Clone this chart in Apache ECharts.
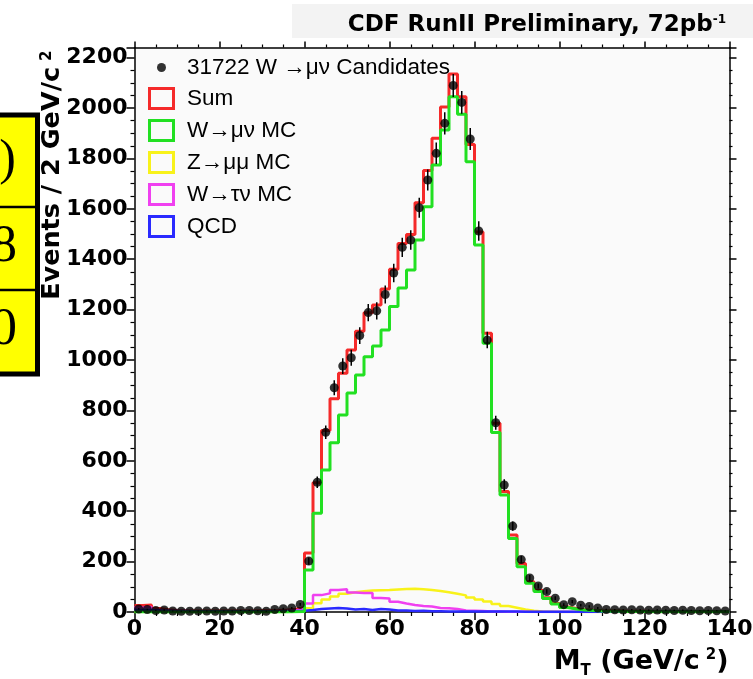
<!DOCTYPE html>
<html><head><meta charset="utf-8">
<script src="https://cdn.jsdelivr.net/npm/echarts@6/dist/echarts.min.js"></script>
<style>html,body{margin:0;padding:0;background:#fff;}#c{width:753px;height:679px;}</style>
</head><body><div id="c"></div>
<script>
// ---- data (2 GeV/c^2 bins from 0 to 140) ----
const BIN_WIDTH = 2;
const X_MIN = 0, X_MAX = 140;
const binLow = Array.from({length: 70}, (_, i) => X_MIN + i * BIN_WIDTH);

const dataCounts = [12, 10, 6, 8, 4, 3, 3, 4, 4, 3,
  4, 4, 6, 6, 5, 3, 10, 13, 16, 30,
  202, 515, 713, 890, 976, 1009, 1097, 1188, 1195, 1260,
  1345, 1447, 1476, 1604, 1714, 1820, 1939, 2089, 2022, 1877,
  1512, 1079, 751, 504, 341, 208, 135, 103, 81, 55,
  29, 41, 27, 22, 16, 10, 9, 8, 9, 8,
  7, 8, 7, 6, 7, 6, 5, 6, 5, 4];

const sumMC = [26, 28, 14, 9, 6, 5, 4, 4, 4, 4,
  4, 4, 4, 4, 5, 5, 6, 8, 11, 18,
  234, 513, 720, 846, 947, 1040, 1114, 1187, 1218, 1282,
  1360, 1462, 1498, 1624, 1752, 1880, 2004, 2135, 2045, 1855,
  1508, 1106, 749, 478, 306, 192, 120, 86, 57, 34,
  20, 14, 9, 7, 5, 4, 4, 3, 3, 3,
  2, 2, 2, 2, 2, 2, 2, 2, 2, 2];

const wmunuMC = [0, 0, 0, 0, 0, 0, 0, 0, 0, 0,
  0, 0, 0, 0, 0, 0, 0, 0, 1, 2,
  167, 392, 563, 672, 782, 869, 940, 1013, 1056, 1119,
  1212, 1286, 1357, 1476, 1608, 1774, 1913, 2045, 1975, 1787,
  1456, 1066, 712, 464, 292, 180, 114, 81, 54, 32,
  18, 12, 8, 6, 4, 3, 3, 2, 2, 2,
  1, 1, 1, 1, 1, 1, 1, 1, 1, 1];

const zmumuMC = [0, 0, 0, 0, 0, 0, 0, 0, 0, 0,
  0, 0, 0, 0, 0, 0, 0, 0, 1, 3,
  15, 35, 50, 62, 72, 78, 82, 85, 86, 87,
  89, 91, 92, 90, 87, 83, 78, 72, 66, 58,
  50, 42, 32, 24, 17, 10, 5, 2, 1, 0,
  0, 0, 0, 0, 0, 0, 0, 0, 0, 0,
  0, 0, 0, 0, 0, 0, 0, 0, 0, 0];

const wtaunuMC = [18, 20, 8, 4, 2, 1, 1, 1, 1, 1,
  1, 1, 1, 1, 1, 1, 2, 3, 6, 12,
  34, 67, 74, 87, 90, 77, 75, 75, 56, 54,
  41, 34, 28, 24, 22, 16, 15, 12, 6, 5,
  4, 2, 2, 1, 1, 1, 0, 0, 0, 0,
  0, 0, 0, 0, 0, 0, 0, 0, 0, 0,
  0, 0, 0, 0, 0, 0, 0, 0, 0, 0];

const qcdBkg = [8, 8, 6, 5, 4, 4, 3, 3, 3, 3,
  3, 3, 3, 3, 3, 3, 3, 4, 4, 5,
  8, 12, 14, 16, 14, 10, 12, 8, 12, 10,
  6, 6, 4, 5, 3, 3, 2, 2, 2, 2,
  2, 2, 2, 2, 2, 1, 1, 1, 1, 1,
  1, 1, 1, 1, 1, 1, 1, 1, 1, 1,
  1, 1, 1, 1, 1, 1, 1, 1, 1, 1];

const seriesNames = ['Sum', 'W\u2192\u03BC\u03BD MC', 'Z\u2192\u03BC\u03BC MC', 'W\u2192\u03C4\u03BD MC', 'QCD'];
const dataName = '31722 W \u2192\u03BC\u03BD Candidates';
const yTickLabels = [0, 200, 400, 600, 800, 1000, 1200, 1400, 1600, 1800, 2000, 2200];

// ---- build ----
function stepData(vals) {
  const d = vals.map((v, i) => [binLow[i], v]);
  d.push([X_MAX, vals[vals.length - 1]]);
  return d;
}
const pts = dataCounts.map((v, i) => [binLow[i] + BIN_WIDTH / 2, v]);

const chart = echarts.init(document.getElementById('c'), null, {renderer: 'canvas'});
const boldFont = 'DejaVu Sans';
const hollowBox = 'path://M0,0H27V23H0Z M3,3V20H24V3Z';

const lineDefs = [
  {name: seriesNames[0], vals: sumMC, color: '#f52a2a', w: 3, z: 3},
  {name: seriesNames[1], vals: wmunuMC, color: '#22e022', w: 3, z: 4},
  {name: seriesNames[2], vals: zmumuMC, color: '#f8f21a', w: 2.5, z: 3},
  {name: seriesNames[3], vals: wtaunuMC, color: '#f040f0', w: 2.5, z: 3},
  {name: seriesNames[4], vals: qcdBkg, color: '#2a2aff', w: 2.5, z: 3}
];

const series = lineDefs.map(d => ({
  type: 'line', name: d.name, step: 'end', showSymbol: false, silent: true,
  data: stepData(d.vals), color: d.color,
  lineStyle: {color: d.color, width: d.w}, z: d.z
}));
series.push({
  type: 'custom', silent: true, z: 6,
  data: pts,
  renderItem: function (params, api) {
    const x = api.value(0), y = api.value(1), e = Math.sqrt(y);
    const p1 = api.coord([x, Math.max(0, y - e)]), p2 = api.coord([x, y + e]);
    return {type: 'line', shape: {x1: p1[0], y1: p1[1], x2: p2[0], y2: p2[1]},
      style: {stroke: '#000', lineWidth: 1.5}};
  }
});
series.push({
  type: 'scatter', name: dataName, data: pts, symbol: 'circle', symbolSize: 9,
  itemStyle: {color: '#000'}, z: 7, silent: true
});

const axisLineStyle = {color: '#000', width: 1.5};

chart.setOption({
  animation: false,
  backgroundColor: '#fff',
  title: {
    text: 'CDF RunII Preliminary, 72pb{sup|-1}',
    right: 22, top: 9,
    textStyle: {fontFamily: boldFont, fontWeight: 'bold', fontSize: 23, color: '#000',
      rich: {sup: {fontFamily: boldFont, fontWeight: 'bold', fontSize: 12, verticalAlign: 'top', color: '#000'}}}
  },
  grid: {left: 134.5, right: 23.5, top: 47.5, bottom: 67, show: true, backgroundColor: '#fafafa', borderWidth: 0,
    containLabel: false, outerBoundsMode: 'none'},
  legend: [
    {data: [{name: dataName, icon: 'circle'}], orient: 'vertical', left: 157, top: 56, padding: 0,
      itemWidth: 9, itemHeight: 9, selectedMode: false,
      textStyle: {fontFamily: 'Liberation Sans', fontSize: 22.5, color: '#000', padding: [0, 0, 0, 16]}},
    {data: seriesNames.map(n => ({name: n, icon: hollowBox})), orient: 'vertical', left: 148, top: 87, padding: 0,
      itemWidth: 27, itemHeight: 23, itemGap: 9, selectedMode: false,
      itemStyle: {borderWidth: 0},
      textStyle: {fontFamily: 'Liberation Sans', fontSize: 22.5, color: '#000', padding: [0, 0, 0, 7]}}
  ],
  xAxis: [
    {type: 'value', min: X_MIN, max: X_MAX, interval: 20, position: 'bottom',
      axisLine: {show: true, onZero: false, lineStyle: axisLineStyle},
      axisTick: {show: true, inside: false, length: 8, lineStyle: axisLineStyle},
      minorTick: {show: true, splitNumber: 4, length: 4, lineStyle: {color: '#000', width: 1.2}},
      splitLine: {show: false},
      axisLabel: {fontFamily: boldFont, fontWeight: 'bold', fontSize: 22, color: '#000', margin: 6},
      name: 'M{sub|T} (GeV/c{sup|2})', nameLocation: 'end', nameGap: -1, nameMoveOverlap: false,
      nameTextStyle: {fontFamily: boldFont, fontWeight: 'bold', fontSize: 27, color: '#000',
        align: 'right', verticalAlign: 'top', padding: [36, 0, 0, 0],
        rich: {sub: {fontFamily: boldFont, fontWeight: 'bold', fontSize: 15, verticalAlign: 'bottom', padding: [0, 0, -4, 0]},
               sup: {fontFamily: boldFont, fontWeight: 'bold', fontSize: 15, verticalAlign: 'top', padding: [0, 0, 0, 6]}}}},
    {type: 'value', min: X_MIN, max: X_MAX, interval: 20, position: 'top',
      axisLine: {show: true, onZero: false, lineStyle: axisLineStyle},
      axisTick: {show: true, inside: false, length: 6, lineStyle: axisLineStyle},
      minorTick: {show: true, splitNumber: 4, length: 3, lineStyle: {color: '#000', width: 1.2}},
      splitLine: {show: false}, axisLabel: {show: false}}
  ],
  yAxis: [
    {type: 'value', min: 0, max: 2240, interval: 200, position: 'left',
      axisLine: {show: true, onZero: false, lineStyle: axisLineStyle},
      axisTick: {show: true, inside: false, length: 8, lineStyle: axisLineStyle},
      minorTick: {show: true, splitNumber: 4, length: 4, lineStyle: {color: '#000', width: 1.2}},
      splitLine: {show: false},
      axisLabel: {fontFamily: boldFont, fontWeight: 'bold', fontSize: 22, color: '#000', margin: 7,
        formatter: v => (yTickLabels.indexOf(v) >= 0 ? String(v) : '')},
      name: 'Events / 2 GeV/c{sup|2}', nameLocation: 'end', nameRotate: 90, nameGap: -3, nameMoveOverlap: false,
      nameTextStyle: {fontFamily: boldFont, fontWeight: 'bold', fontSize: 25.5, color: '#000',
        align: 'right', verticalAlign: 'bottom', padding: [0, 0, 69, 0],
        rich: {sup: {fontFamily: boldFont, fontWeight: 'bold', fontSize: 15, verticalAlign: 'top', padding: [0, 0, 0, 6]}}}},
    {type: 'value', min: 0, max: 2240, interval: 200, position: 'right',
      axisLine: {show: true, onZero: false, lineStyle: axisLineStyle},
      axisTick: {show: true, inside: false, length: 7, lineStyle: axisLineStyle},
      minorTick: {show: true, splitNumber: 4, length: 3, lineStyle: {color: '#000', width: 1.2}},
      splitLine: {show: false}, axisLabel: {show: false}}
  ],
  graphic: [
    {type: 'rect', shape: {x: 292, y: 4, width: 470, height: 34}, style: {fill: '#f3f3f3'}, z: -10},
    {type: 'rect', shape: {x: 137, y: 50, width: 203, height: 193}, style: {fill: '#ffffff'}, z: -1},
    {type: 'rect', shape: {x: -10, y: 115, width: 47.5, height: 259}, style: {fill: '#ffff00', stroke: '#000', lineWidth: 5}, z: 20},
    {type: 'line', shape: {x1: 0, y1: 207, x2: 36, y2: 207}, style: {stroke: '#000', lineWidth: 2.5}, z: 21},
    {type: 'line', shape: {x1: 0, y1: 290, x2: 36, y2: 290}, style: {stroke: '#000', lineWidth: 2.5}, z: 21},
    {type: 'text', x: 16, y: 161, style: {text: ')', font: '50px "Liberation Serif"', fill: '#000', textAlign: 'right', textVerticalAlign: 'middle'}, z: 22},
    {type: 'text', x: 17, y: 247, style: {text: '8', font: '53px "Liberation Serif"', fill: '#000', textAlign: 'right', textVerticalAlign: 'middle'}, z: 22},
    {type: 'text', x: 17, y: 330, style: {text: '0', font: '53px "Liberation Serif"', fill: '#000', textAlign: 'right', textVerticalAlign: 'middle'}, z: 22}
  ],
  series: series
});
</script>
</body></html>
